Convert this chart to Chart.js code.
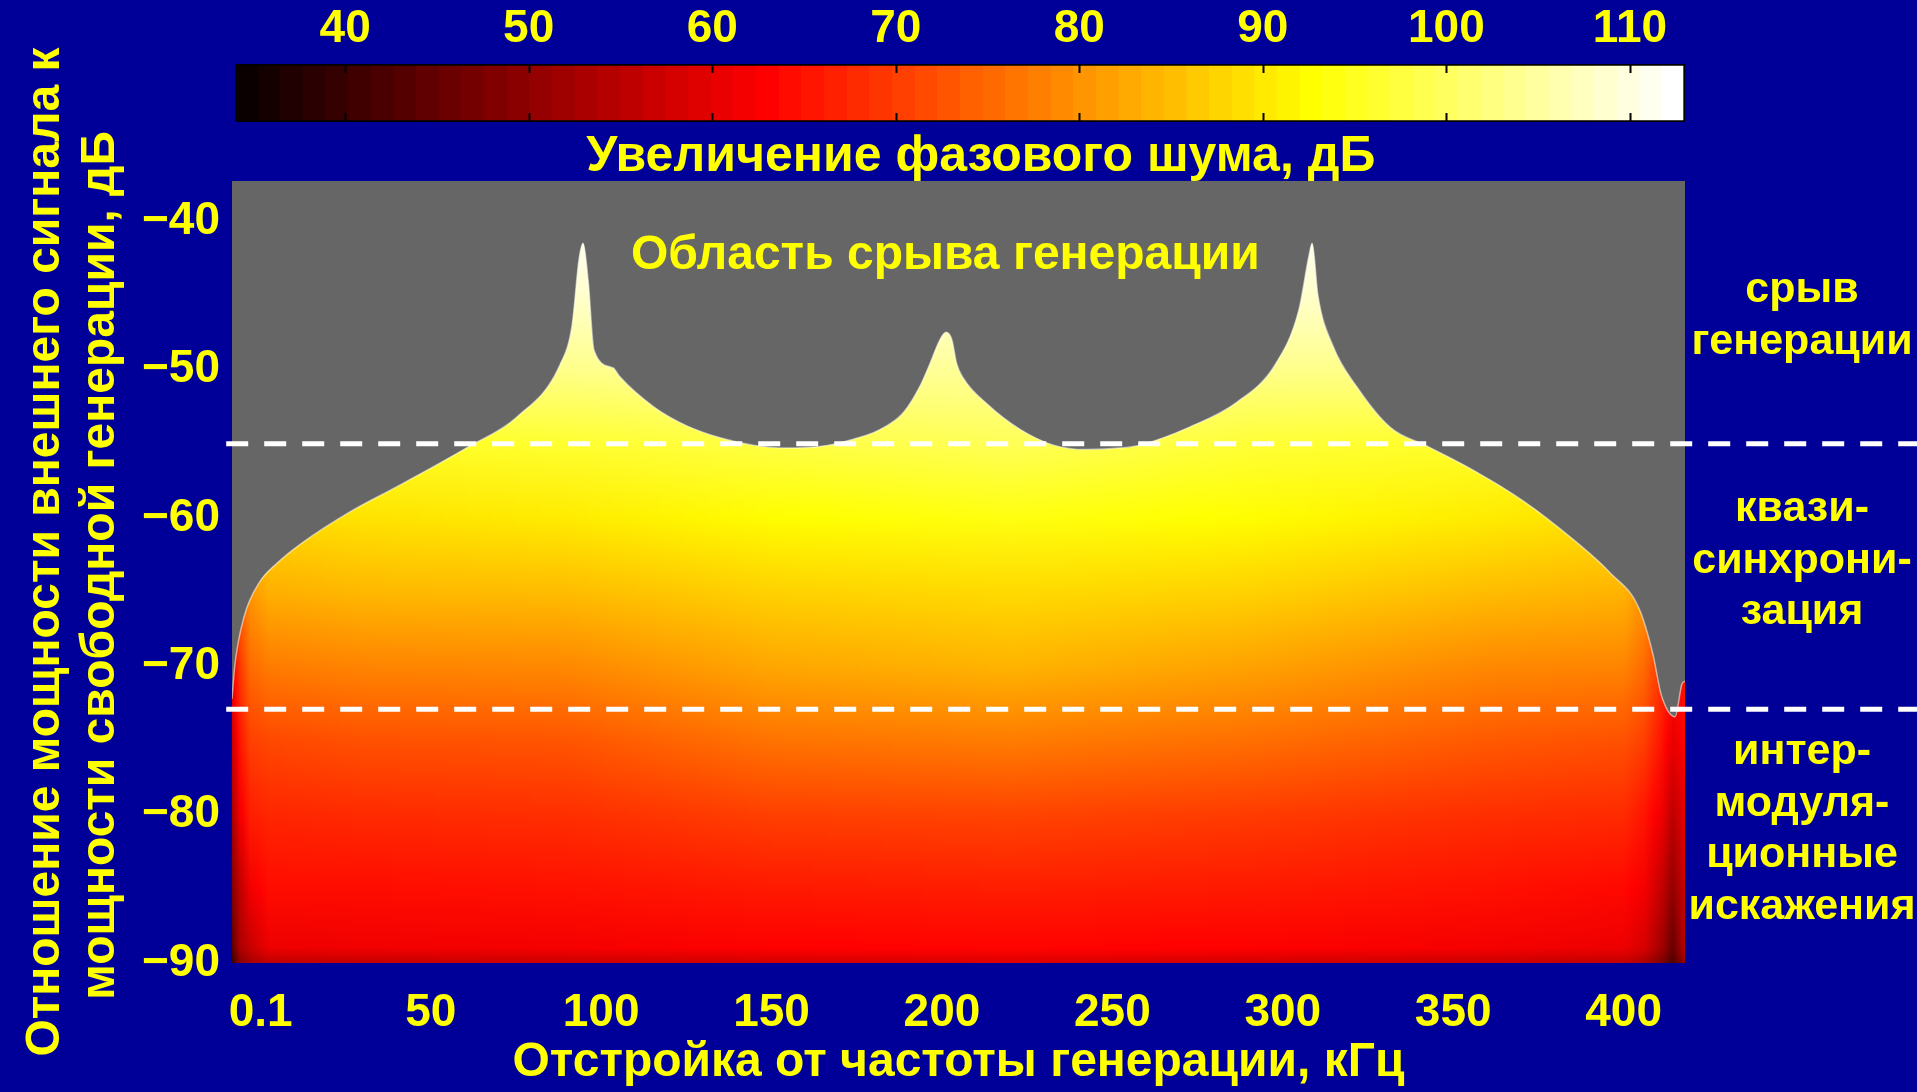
<!DOCTYPE html>
<html lang="ru">
<head>
<meta charset="utf-8">
<title>Увеличение фазового шума</title>
<script src="https://cdn.jsdelivr.net/npm/chart.js@4.4.1/dist/chart.umd.min.js"></script>
<style>
  html, body { margin: 0; padding: 0; background: #000099; }
  #wrap { position: relative; width: 1917px; height: 1092px; overflow: hidden; }
  #wrap canvas { position: absolute; left: 0; top: 0; }
</style>
</head>
<body>
<div id="wrap">
  <canvas id="mainChart" width="1917" height="1092"></canvas>
  <canvas id="barChart" width="1917" height="185"></canvas>
</div>
<script>
// colour scale of the map (phase noise increase, dB)
const cbarMin = 34, cbarMax = 113;
const cbarTicks = [40, 50, 60, 70, 80, 90, 100, 110];

// axes
const xMin = -8.3, xMax = 418, yMin = -90, yMax = -37.3;
const freqTicks = [0.1, 50, 100, 150, 200, 250, 300, 350, 400];
const levelTicks = [-90, -80, -70, -60, -50, -40];

// upper edge of the map (above it generation breaks down), kHz / dB
const edgeFreq = [-8.3, -7.4, -4.8, -0.4, 5.2, 12.2, 26.3, 40.1, 61.2, 75.3, 87.9, 91.5, 93.5, 94.7, 96.2, 97.9,
  103.5, 105.5, 115.3, 125.1, 134.9, 144.6, 154.4, 164.2, 174.0, 181.8, 188.7, 193.6, 196.5, 199.4, 201.2,
  202.9, 204.3, 206.3, 213.1, 223.0, 232.7, 242.5, 252.2, 258.1,
  272.5, 286.6, 297.7, 304.7, 307.7, 308.6, 310.3, 314.7, 321.8, 331.5, 342.6, 356.7, 370.8,
  384.9, 396.0, 404.5, 408.6, 411.0, 415.1, 417.1, 418.0];
const edgeLevel = [-72.2, -69.8, -66.7, -64.4, -63.0, -61.7, -59.6, -57.9, -55.2, -53.2, -49.7, -47.0, -42.6, -41.5, -44.0, -48.7,
  -49.9, -50.5, -52.5, -53.8, -54.6, -55.1, -55.3, -55.2, -54.7, -54.05, -52.9, -51.1, -49.6, -48.0, -47.5,
  -48.0, -49.6, -50.6, -52.3, -54.05, -55.1, -55.4, -55.3, -55.1,
  -53.9, -52.2, -49.7, -46.0, -42.3, -41.5, -45.0, -48.4, -51.2, -53.9, -55.2, -56.9, -58.9,
  -61.4, -63.7, -66.1, -69.2, -71.9, -73.4, -71.2, -71.0];

// map values: one row per level, one value per heatFreq column
const heatFreq = [-8.3, -6, -3, 2.5, 30, 90, 150, 220, 290, 360, 400, 406, 411, 414.5, 418];
const heatLevel = [-90, -89, -85, -80, -75, -70, -65, -60, -55, -50, -45, -40];
const heatRows = [
  [40, 50, 53, 56, 57, 57.5, 58.5, 59.5, 58.5, 57.5, 56.5, 54, 49, 43, 52],
  [44, 54, 57, 61.5, 62, 62.5, 63.5, 64, 63.5, 62.5, 61.5, 59, 53, 46, 56],
  [49, 56, 62, 65, 65, 65.5, 66.5, 67, 66.5, 65.5, 64.5, 62.5, 57, 51, 58],
  [53, 62, 67, 68, 68.5, 69, 71, 71.5, 70.5, 69, 68.5, 66, 62, 56, 61],
  [57, 66, 71, 72, 73, 73.5, 77, 78, 76.5, 74, 73, 71, 66, 61, 64],
  [62, 70, 76, 78, 79, 79.5, 83, 84.5, 82.5, 79.5, 79, 76, 70, 65, 66],
  [66, 75, 81, 84, 85, 85.5, 88, 89, 88, 85.5, 84.5, 81, 74, 69, 69],
  [70, 80, 86, 89, 90, 91, 93, 94.5, 93, 91, 89.5, 86, 78, 72, 72],
  [75, 85, 90, 94, 96, 97, 98.5, 100, 97.5, 96.5, 95, 91, 82, 76, 76],
  [80, 90, 95, 100, 104, 104, 105, 105, 104, 104, 101, 96, 86, 80, 80],
  [85, 95, 100, 106, 109, 109, 110, 110, 109, 109, 107, 101, 90, 85, 85],
  [90, 100, 105, 111, 113, 113, 113, 113, 113, 113, 112, 106, 95, 90, 90]
];

// dashed zone borders, dB
const zoneBorders = [-55, -72.9];
const dashSpan = [-10, 700];

const zoneLabels = [['срыв', 'генерации'], ['квази-', 'синхрони-', 'зация'], ['интер-', 'модуля-', 'ционные', 'искажения']];
const zoneCenters = [-46.4, -62.9, -81.0];
const regionTitle = 'Область срыва генерации';
const regionTitleAt = [201, -42.35];

const xTitle = 'Отстройка от частоты генерации, кГц';
const yTitle = ['   Отношение мощности внешнего сигнала к', ' мощности свободной генерации, дБ'];
const cbarTitle = '   Увеличение фазового шума, дБ';

const yellow = '#ffff00';
const fontFamily = "'Liberation Sans', Arial, sans-serif";
Chart.defaults.font.family = fontFamily;
Chart.defaults.font.weight = 'bold';
Chart.defaults.color = yellow;

// matlab-like "hot" map, s in 0..64
function hotRGB(s) {
  const cl = t => Math.min(1, Math.max(0, t));
  const r = cl(s / 24), g = cl((s - 24) / 24), b = cl((s - 48) / 16);
  return `rgb(${Math.round(r * 255)},${Math.round(g * 255)},${Math.round(b * 255)})`;
}
function hot(v) {
  return hotRGB((v - cbarMin) / (cbarMax - cbarMin) * 64);
}

function heatFill(context) {
  const chart = context.chart;
  const { chartArea, scales } = chart;
  if (!chartArea || !scales.x || !scales.y) return 'transparent';
  if (chart.$heat) return chart.$heat;
  const off = document.createElement('canvas');
  off.width = chart.width;
  off.height = chart.height;
  const g = off.getContext('2d');
  const yb = scales.y.getPixelForValue(heatLevel[0]);
  const yt = scales.y.getPixelForValue(heatLevel[heatLevel.length - 1]);
  for (let px = Math.floor(chartArea.left); px < Math.ceil(chartArea.right); px++) {
    const f = scales.x.getValueForPixel(px + 0.5);
    let j = 0;
    while (j < heatFreq.length - 2 && f > heatFreq[j + 1]) j++;
    const t = Math.min(1, Math.max(0, (f - heatFreq[j]) / (heatFreq[j + 1] - heatFreq[j])));
    const grad = g.createLinearGradient(0, yb, 0, yt);
    heatLevel.forEach((lv, i) => {
      const v = heatRows[i][j] * (1 - t) + heatRows[i][j + 1] * t;
      grad.addColorStop((scales.y.getPixelForValue(lv) - yb) / (yt - yb), hot(v));
    });
    g.fillStyle = grad;
    g.fillRect(px, chartArea.top, 1, chartArea.bottom - chartArea.top);
  }
  chart.$heat = chart.ctx.createPattern(off, 'no-repeat');
  return chart.$heat;
}

function colorbarFill(context) {
  const chart = context.chart;
  if (!chart.chartArea || !chart.scales.x) return 'transparent';
  const sx = chart.scales.x;
  const grad = chart.ctx.createLinearGradient(sx.getPixelForValue(cbarMin), 0, sx.getPixelForValue(cbarMax), 0);
  for (let k = 0; k < 64; k++) {
    const c = hotRGB(k + 1);
    grad.addColorStop(k / 64, c);
    grad.addColorStop((k + 1) / 64 - 0.0001, c);
  }
  return grad;
}

const plotBackground = {
  id: 'plotBackground',
  beforeDatasetsDraw(chart) {
    const { ctx, chartArea: a } = chart;
    ctx.save();
    ctx.fillStyle = '#666666';
    ctx.fillRect(a.left, a.top, a.right - a.left, a.bottom - a.top);
    ctx.restore();
  }
};

const textLayer = {
  id: 'textLayer',
  afterDraw(chart) {
    const { ctx, chartArea, scales: { x, y } } = chart;
    ctx.save();
    ctx.fillStyle = yellow;
    ctx.textAlign = 'center';
    ctx.textBaseline = 'middle';
    ctx.font = `bold 48px ${fontFamily}`;
    ctx.fillText(regionTitle, x.getPixelForValue(regionTitleAt[0]), y.getPixelForValue(regionTitleAt[1]));
    ctx.font = `bold 43px ${fontFamily}`;
    const cx = chartArea.right + 117;
    zoneLabels.forEach((lines, i) => {
      const mid = y.getPixelForValue(zoneCenters[i]);
      lines.forEach((t, j) => ctx.fillText(t, cx, mid + (j - (lines.length - 1) / 2) * 51.5));
    });
    ctx.restore();
  }
};

const colorbarTicks = {
  id: 'colorbarTicks',
  afterDatasetsDraw(chart) {
    const { ctx, chartArea: a, scales: { x } } = chart;
    ctx.save();
    ctx.strokeStyle = '#000000';
    ctx.lineWidth = 2;
    cbarTicks.forEach(v => {
      const px = Math.round(x.getPixelForValue(v)) + 0.5;
      ctx.beginPath();
      ctx.moveTo(px, a.top); ctx.lineTo(px, a.top + 9);
      ctx.moveTo(px, a.bottom - 9); ctx.lineTo(px, a.bottom);
      ctx.stroke();
    });
    ctx.restore();
  }
};

new Chart(document.getElementById('mainChart'), {
  type: 'line',
  data: {
    datasets: [
      {
        data: edgeFreq.map((f, i) => ({ x: f, y: edgeLevel[i] })),
        fill: 'start',
        backgroundColor: heatFill,
        borderColor: 'rgba(255,255,240,0.55)',
        borderWidth: 1.5,
        pointRadius: 0,
        pointBackgroundColor: 'transparent',
        cubicInterpolationMode: 'monotone',
        order: 2
      },
      ...zoneBorders.map(v => ({
        data: dashSpan.map(f => ({ x: f, y: v })),
        borderColor: '#ffffff',
        borderWidth: 5,
        borderDash: [22, 16],
        pointRadius: 0,
        fill: false,
        clip: false,
        order: 1
      }))
    ]
  },
  options: {
    responsive: false,
    animation: false,
    devicePixelRatio: 1,
    layout: { padding: { top: 181, right: 232, left: 0, bottom: 0 } },
    plugins: { legend: { display: false }, tooltip: { enabled: false } },
    scales: {
      x: {
        type: 'linear', min: xMin, max: xMax,
        grid: { display: false }, border: { display: false },
        afterBuildTicks: s => { s.ticks = freqTicks.map(v => ({ value: v })); },
        afterFit: s => { s.height = 129; },
        ticks: { font: { size: 46 }, padding: 15, maxRotation: 0, autoSkip: false, callback: v => String(v) },
        title: { display: true, text: xTitle, font: { size: 48 }, padding: { top: 0, bottom: 0 } }
      },
      y: {
        type: 'linear', min: yMin, max: yMax,
        grid: { display: false }, border: { display: false },
        afterBuildTicks: s => { s.ticks = levelTicks.map(v => ({ value: v })); },
        afterFit: s => { s.width = 232; },
        ticks: { font: { size: 46 }, padding: 4, callback: v => '\u2212' + Math.abs(v) },
        title: { display: true, text: yTitle, font: { size: 48, lineHeight: 1.146 }, padding: { top: 18, bottom: 0 } }
      }
    }
  },
  plugins: [plotBackground, textLayer]
});

new Chart(document.getElementById('barChart'), {
  type: 'bar',
  data: {
    labels: [''],
    datasets: [{
      data: [[cbarMin, cbarMax]],
      backgroundColor: colorbarFill,
      borderColor: '#000000',
      borderWidth: 2,
      borderSkipped: false,
      barPercentage: 1,
      categoryPercentage: 1
    }]
  },
  options: {
    indexAxis: 'y',
    responsive: false,
    animation: false,
    devicePixelRatio: 1,
    layout: { padding: { left: 235, right: 232, top: 0, bottom: 0 } },
    plugins: {
      legend: { display: false },
      tooltip: { enabled: false },
      title: { display: true, position: 'bottom', text: cbarTitle, color: yellow, font: { size: 50, weight: 'bold', lineHeight: 1.1 }, padding: { top: 8, bottom: 0 } }
    },
    scales: {
      x: {
        type: 'linear', position: 'top', min: cbarMin, max: cbarMax,
        grid: { display: false }, border: { display: false },
        afterBuildTicks: s => { s.ticks = cbarTicks.map(v => ({ value: v })); },
        afterFit: s => { s.height = 64; },
        ticks: { font: { size: 46, lineHeight: 1 }, padding: 4 }
      },
      y: { display: false }
    }
  },
  plugins: [colorbarTicks]
});
</script>
</body>
</html>
